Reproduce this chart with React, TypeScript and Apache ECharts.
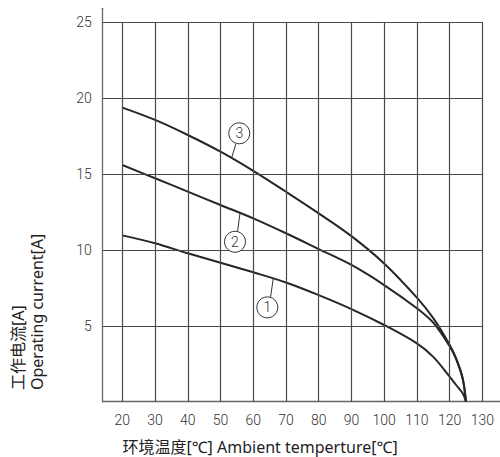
import React, { useEffect, useRef } from "react";
import * as echarts from "echarts";

const temps = [20, 30, 40, 50, 60, 70, 80, 90, 100, 110, 115, 120, 122, 124, 125];
const curve1 = [10.95, 10.43, 9.77, 9.15, 8.52, 7.85, 7.02, 6.1, 5.05, 3.84, 2.95, 1.65, 1.1, 0.55, 0];
const curve2 = [15.58, 14.71, 13.83, 12.95, 12.07, 11.09, 10.05, 9.0, 7.68, 6.15, 5.2, 3.65, 2.8, 1.5, 0];
const curve3 = [19.36, 18.55, 17.56, 16.46, 15.2, 13.82, 12.4, 10.9, 9.1, 6.85, 5.5, 3.75, 2.85, 1.55, 0];
const curveNames = ["1", "2", "3"];

const xTicks = [20, 30, 40, 50, 60, 70, 80, 90, 100, 110, 120, 130];
const yTicks = [5, 10, 15, 20, 25];

// annotation anchors in data units: circle centre, leader start (on curve), leader end (at circle)
const labelCircles = [
  [64.3, 6.21],
  [54.42, 10.53],
  [55.73, 17.67],
];
const leaderLines = [
  [[66.1, 8.1], [65.3, 6.9]],
  [[55.95, 12.4], [55.2, 11.2]],
  [[53.41, 16.06], [54.73, 17.0]],
];

const X_MIN = 14;
const X_MAX = 135.4;
const Y_MIN = 0;
const Y_MAX = 25.9;
const GRID_X_END = 130;
const GRID_Y_END = 25;

export default function App() {
  const ref = useRef<HTMLDivElement>(null);
  useEffect(() => {
    if (!ref.current) return;
    const chart = echarts.init(ref.current, null, { renderer: "svg" });
    const curves = [curve1, curve2, curve3];
    const gridLineStyle = { color: "#4a4a4a", width: 1.2, type: "solid" as const };
    const gridMarks: any[] = [];
    xTicks.forEach((x) => gridMarks.push([{ coord: [x, Y_MIN] }, { coord: [x, GRID_Y_END] }]));
    yTicks.forEach((y) => gridMarks.push([{ coord: [X_MIN, y] }, { coord: [GRID_X_END, y] }]));

    const series: any[] = [
      {
        type: "line",
        data: [],
        silent: true,
        z: 1,
        markLine: {
          silent: true,
          symbol: ["none", "none"],
          label: { show: false },
          lineStyle: gridLineStyle,
          emphasis: { disabled: true },
          data: gridMarks,
        },
      },
    ];
    curves.forEach((c, i) => {
      series.push({
        type: "line",
        name: curveNames[i],
        data: temps.map((t, k) => [t, c[k]]),
        smooth: 0.35,
        showSymbol: false,
        z: 3,
        lineStyle: { color: "#262626", width: 2 },
        markLine: {
          silent: true,
          symbol: ["none", "none"],
          label: { show: false },
          lineStyle: { color: "#333", width: 1, type: "solid" },
          data: [[{ coord: leaderLines[i][0] }, { coord: leaderLines[i][1] }]],
        },
        markPoint: {
          silent: true,
          symbol: "circle",
          symbolSize: 21,
          itemStyle: { color: "#fff", borderColor: "#333", borderWidth: 1 },
          label: {
            show: true,
            position: "inside",
            formatter: curveNames[i],
            color: "#333",
            fontSize: 14,
            fontFamily: "Roboto",
            fontWeight: 300,
          },
          data: [{ coord: labelCircles[i] }],
        },
      });
    });

    chart.setOption({
      animation: false,
      grid: { left: 102.7, right: 0, top: 8.3, bottom: 55.3 },
      xAxis: {
        type: "value",
        min: X_MIN,
        max: X_MAX,
        splitLine: { show: false },
        axisTick: { show: false },
        axisLine: { show: true, lineStyle: { color: "#666", width: 1.3 } },
        axisLabel: {
          customValues: xTicks,
          margin: 11,
          color: "#333",
          fontSize: 14,
          fontFamily: "Roboto",
          fontWeight: 300,
        },
      },
      yAxis: {
        type: "value",
        min: Y_MIN,
        max: Y_MAX,
        splitLine: { show: false },
        axisTick: { show: false },
        axisLine: { show: true, lineStyle: { color: "#666", width: 1.3 } },
        axisLabel: {
          customValues: yTicks,
          margin: 11,
          color: "#333",
          fontSize: 14,
          fontFamily: "Roboto",
          fontWeight: 300,
        },
      },
      graphic: [
        {
          type: "text",
          x: 260,
          y: 447,
          style: {
            text: "环境温度[℃] Ambient temperture[℃]",
            align: "center",
            verticalAlign: "middle",
            fill: "#222",
            fontSize: 16,
            fontFamily: "'Noto Sans', 'Noto Sans CJK SC'",
          },
        },
        {
          type: "text",
          x: 27.5,
          y: 390,
          rotation: Math.PI / 2,
          style: {
            text: "工作电流[A]\nOperating current[A]",
            align: "left",
            verticalAlign: "middle",
            lineHeight: 18.5,
            fill: "#222",
            fontSize: 16,
            fontFamily: "'Noto Sans', 'Noto Sans CJK SC'",
          },
        },
      ],
      series,
    });
    return () => chart.dispose();
  }, []);
  return (
    <div
      ref={ref}
      style={{ position: "fixed", left: 0, top: 0, width: 500, height: 457, background: "#fff" }}
    />
  );
}
